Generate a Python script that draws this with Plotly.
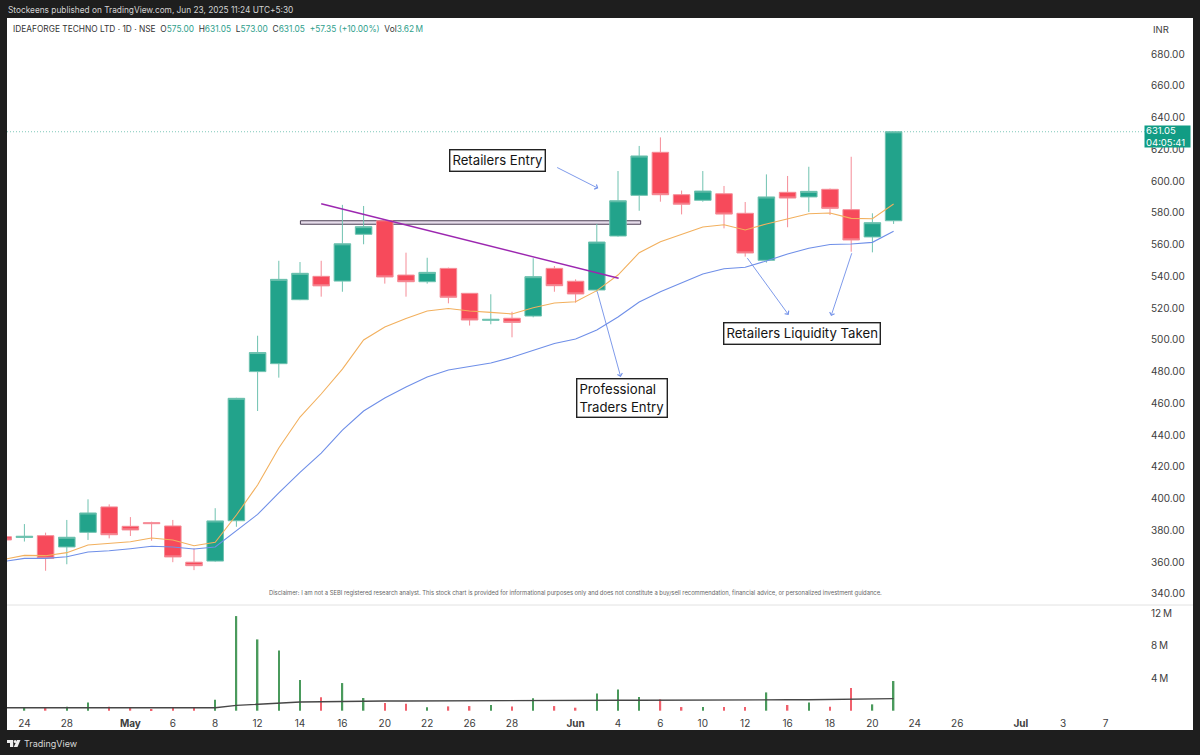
import plotly.graph_objects as go

# ---- data ----
session = list(range(-1, 42))
opens = [376, 375.6, 376.7, 369.6, 378.8, 394.8, 382.6, 384.9, 382.8, 360, 360.7, 386.1, 480, 485, 525.3, 540, 537, 566.5, 575, 540.8,
         536.6, 545, 529.3, 512.3, 513.6, 515, 545, 536.9, 531.4, 565.4, 591, 618.1, 591.4, 587.9, 592, 579.7, 550.1, 592.9, 590, 594.8, 582, 564.8, 575]
highs = [376.5, 384, 378.6, 386.6, 399.6, 396.4, 388.4, 385.5, 386.6, 368.7, 394, 463.5, 502.6, 549.8, 549, 549.8, 585, 584.3, 575.5, 554.9,
         551.7, 545.5, 529.5, 528.7, 517.7, 551.4, 546.5, 538.1, 573, 606.3, 622.1, 627.5, 594, 606.3, 596.9, 586.8, 604.2, 603.2, 609, 595.3, 615.3, 579.7, 631.05]
lows = [373.5, 373, 354.6, 358.7, 374, 375, 376.5, 373.5, 360, 355, 360.3, 382.3, 455.2, 476.2, 525, 527.2, 530.3, 560.2, 535.4, 527.2,
        535.4, 523, 509, 509.8, 501.6, 514.2, 530.3, 523.4, 530.3, 565, 581.3, 587, 579, 587, 570.2, 552.4, 548.6, 570.9, 580.5, 578.6, 555.5, 555.1, 573]
closes = [374, 376.3, 362.4, 375.7, 391, 377.3, 380.3, 384.3, 363.3, 357.8, 386, 463.2, 492, 538.1, 541.9, 534, 560.5, 571.3, 539.6, 536.6,
          542.5, 526.8, 512.5, 512.9, 511, 539.8, 534.1, 528.9, 561.6, 587.6, 615.8, 591.4, 585.4, 593.7, 579.2, 554.7, 590, 589.3, 593.5, 582.8, 562.9, 573.8, 631.05]
ema_fast = [361.7, 364.3, 364.1, 366, 370.8, 371.9, 372.9, 375.2, 374, 370.4, 372.5, 389.7, 408.6, 431.9, 451.4, 465.9, 481.6, 499.9, 508.1, 513.4,
            518.2, 519.7, 518.2, 517.3, 516.3, 520.2, 523.2, 524, 531, 540.8, 554.9, 561.8, 566.5, 571.1, 572.5, 569.2, 573, 576.1, 579.4, 579.9, 576.5, 576.3, 585.5]
ema_slow = [360.4, 362.4, 362.4, 363.4, 366.4, 367.2, 368.5, 370, 369.6, 368.3, 369.6, 379.6, 390.1, 403.6, 416.6, 428.7, 443.2, 455.2, 463.4, 470.3,
            476.6, 481, 483.2, 485.4, 489, 493.6, 497.7, 500.5, 506.2, 514.4, 523.8, 530.3, 535.8, 541.5, 544.8, 545.7, 549.7, 554.1, 557.7, 560, 560.4, 561.4, 568.4]
volume = [0.4, 0.4, 0.4, 0.5, 1.02, 0.5, 0.45, 0.16, 0.33, 0.33, 1.35, 11.64, 8.77, 7.42, 3.77, 1.64, 3.4, 1.56, 0.94, 0.86,
          0.41, 0.53, 0.57, 0.7, 0.53, 1.52, 0.57, 0.37, 2.13, 2.62, 1.68, 1.39, 0.45, 0.45, 0.45, 0.45, 2.25, 0.7, 1.02, 0.5, 2.79, 0.78, 3.65]
volume_ma = [0.37, 0.37, 0.37, 0.37, 0.37, 0.37, 0.37, 0.37, 0.37, 0.37, 0.37, 0.65, 0.82, 0.98, 1.07, 1.1, 1.15, 1.19, 1.19, 1.19,
             1.19, 1.2, 1.2, 1.2, 1.21, 1.23, 1.24, 1.25, 1.27, 1.28, 1.29, 1.31, 1.31, 1.31, 1.31, 1.31, 1.33, 1.34, 1.35, 1.36, 1.39, 1.42, 1.48]

date_positions = [0, 2, 5, 7, 9, 11, 13, 15, 17, 19, 21, 23, 26, 28, 30, 32, 34, 36, 38, 40, 42, 44, 47, 49, 51]
date_labels = ["24", "28", "<b>May</b>", "6", "8", "12", "14", "16", "20", "22", "26", "28", "<b>Jun</b>", "4", "6", "10", "12", "16", "18", "20", "24", "26", "<b>Jul</b>", "3", "7"]
price_ticks = [340, 360, 380, 400, 420, 440, 460, 480, 500, 520, 540, 560, 580, 600, 620, 640, 660, 680]
volume_ticks = [4, 8, 12]
volume_labels = ["4\u2009M", "8\u2009M", "12\u2009M"]

# ---- styles ----
W, H = 1200, 755
DARK = "#1e1e1e"
UP, DOWN = "#22a38b", "#f74a5b"
UPLINE, DOWNLINE = "#6fc2b0", "#f58c97"
FONT = "Inter"
TXT = "#3d3d3d"
CLEAR = "rgba(255,255,255,0)"

def fx(px):
    return px / W

def fy(py):
    return 1 - py / H

vol_colors = ["#4a9a5c" if c >= o else "#f0606c" for o, c in zip(opens, closes)]

fig = go.Figure()
fig.add_trace(go.Scatter(x=session, y=ema_slow, mode="lines", line=dict(color="#6f8fe8", width=1.1), hoverinfo="skip", xaxis="x", yaxis="y"))
fig.add_trace(go.Scatter(x=session, y=ema_fast, mode="lines", line=dict(color="#f2b05e", width=1.1), hoverinfo="skip", xaxis="x", yaxis="y"))
fig.add_trace(go.Candlestick(
    x=session, open=opens, high=highs, low=lows, close=closes, xaxis="x", yaxis="y",
    increasing=dict(fillcolor=UP, line=dict(color=UPLINE, width=1)),
    decreasing=dict(fillcolor=DOWN, line=dict(color=DOWNLINE, width=1)),
    hoverinfo="skip"))
fig.add_trace(go.Bar(x=session, y=volume, width=0.075, marker=dict(color=vol_colors, line=dict(width=0)), xaxis="x2", yaxis="y2", hoverinfo="skip"))
fig.add_trace(go.Scatter(x=session, y=volume_ma, mode="lines", line=dict(color="#474747", width=1.4), hoverinfo="skip", xaxis="x2", yaxis="y2"))

x_range = [(7 - 24.4) / 21.2, (1147 - 24.4) / 21.2]
TICK = 10
fig.update_layout(
    width=W, height=H, margin=dict(l=0, r=0, t=0, b=0), autosize=False,
    paper_bgcolor=DARK, plot_bgcolor=CLEAR, showlegend=False, boxgap=0.22, boxgroupgap=0,
    font=dict(family=FONT, color=TXT, size=TICK),
    xaxis=dict(domain=[fx(7), fx(1147)], range=x_range, showgrid=False, zeroline=False, showticklabels=False,
               ticks="", anchor="y", rangeslider=dict(visible=False)),
    yaxis=dict(domain=[fy(605), fy(18)], range=[333.04, 702.67], side="right", anchor="x", showgrid=False, zeroline=False,
               tickvals=price_ticks, ticktext=[f"{v:.2f}" for v in price_ticks], ticks="outside", ticklen=1, tickcolor=CLEAR,
               tickfont=dict(size=TICK, color=TXT)),
    xaxis2=dict(domain=[fx(7), fx(1147)], range=x_range, showgrid=False, zeroline=False, anchor="y2",
                tickmode="array", tickvals=date_positions, ticktext=date_labels, ticks="outside", ticklen=2, tickcolor=CLEAR,
                tickfont=dict(size=TICK, color=TXT)),
    yaxis2=dict(domain=[fy(712), fy(606)], range=[-0.16, 12.88], side="right", anchor="x2", showgrid=False, zeroline=False,
                tickvals=volume_ticks, ticktext=volume_labels, ticks="outside", ticklen=1, tickcolor=CLEAR,
                tickfont=dict(size=TICK, color=TXT)),
)

shapes = [
    dict(type="rect", xref="paper", yref="paper", x0=fx(7), x1=fx(1193), y0=fy(730), y1=fy(18), fillcolor="white", line=dict(width=0), layer="below"),
    dict(type="line", xref="paper", yref="paper", x0=fx(7), x1=fx(1193), y0=fy(605), y1=fy(605), line=dict(color="#e2e2e2", width=1), layer="below"),
    dict(type="rect", xref="x", yref="y", x0=13.02, x1=29.07, y0=572.8, y1=575, fillcolor="#e6dcea", line=dict(color="#4b3f55", width=1), layer="below"),
    dict(type="line", xref="x", yref="y", x0=14, x1=28.03, y0=585.7, y1=538.8, line=dict(color="#9c27b0", width=1.4), layer="above"),
    dict(type="line", xref="x", yref="y", x0=x_range[0], x1=x_range[1], y0=631.05, y1=631.05, line=dict(color="#7fc9ba", width=1, dash="1px,2px"), layer="below"),
    dict(type="path", xref="paper", yref="paper", fillcolor="#eeeeee", line=dict(width=0),
         path=" ".join(f"{c}{fx(a):.5f},{fy(b):.5f}" for c, a, b in [("M", 7, 740), ("L", 13.2, 740), ("L", 13.2, 747), ("L", 10, 747), ("L", 10, 743), ("L", 7, 743)]) + " Z"),
    dict(type="path", xref="paper", yref="paper", fillcolor="#eeeeee", line=dict(width=0),
         path=" ".join(f"{c}{fx(a):.5f},{fy(b):.5f}" for c, a, b in [("M", 17, 740), ("L", 20.5, 740), ("L", 17.5, 747), ("L", 13.8, 747)]) + " Z"),
    dict(type="circle", xref="paper", yref="paper", x0=fx(13.8), x1=fx(16.6), y0=fy(743), y1=fy(740), fillcolor="#eeeeee", line=dict(width=0)),
]
fig.update_layout(shapes=shapes)

G = "#2fa08c"
legend = (f'IDEAFORGE TECHNO LTD · 1D · NSE  O<span style="color:{G}">575.00</span>  H<span style="color:{G}">631.05</span>  '
          f'L<span style="color:{G}">573.00</span>  C<span style="color:{G}">631.05</span>  <span style="color:{G}">+57.35 (+10.00%)</span>  '
          f'Vol<span style="color:{G}">3.62\u2009M</span>')
disclaimer = ("Disclaimer: I am not a SEBI registered research analyst. This stock chart is provided for informational purposes only "
              "and does not constitute a buy/sell recommendation, financial advice, or personalized investment guidance.")

def paper_text(text, px, py, size, color, xanchor="left", **kw):
    return dict(text=text, xref="paper", yref="paper", x=fx(px), y=fy(py), xanchor=xanchor, yanchor="middle",
                showarrow=False, font=dict(size=size, color=color, family=FONT), **kw)

def box_text(text, x, y, align="center"):
    return dict(text=text, xref="x", yref="y", x=x, y=y, showarrow=False, align=align, bgcolor="white", bordercolor="#222222",
                borderwidth=1.4, borderpad=2, font=dict(size=13.2, color="#141414", family=FONT))

def arrow(x0, y0, x1, y1):
    return dict(xref="x", yref="y", axref="x", ayref="y", ax=x0, ay=y0, x=x1, y=y1, text="", showarrow=True,
                arrowhead=4, arrowsize=1.1, arrowwidth=0.9, arrowcolor="#6f8fe8", standoff=0, startstandoff=0)

annotations = [
    paper_text("Stockeens published on TradingView.com, Jun 23, 2025 11:24 UTC+5:30", 6, 10.5, 8.3, "#d4d4d4"),
    paper_text(legend, 11, 29.5, 8.35, "#333333"),
    paper_text("INR", 1151, 30, 9.5, TXT),
    paper_text("TradingView", 22, 743.5, 9, "#d8d8d8"),
    paper_text(disclaimer, 575, 593, 5.84, "#666666", xanchor="center"),
    dict(text="631.05<br>04:05:41", xref="paper", yref="paper", x=fx(1144), y=fy(136.5), xanchor="left", yanchor="middle", align="left",
         showarrow=False, bgcolor="#119c84", width=43, height=19, borderpad=1, font=dict(size=9.5, color="white", family=FONT)),
    box_text("Retailers Entry", 22.3, 613),
    box_text("Professional<br>Traders Entry", 28.17, 463.4, align="left"),
    box_text("Retailers Liquidity Taken", 36.7, 504),
    arrow(25.06, 609, 27.07, 595.4),
    arrow(27, 531.4, 28.13, 476.6),
    arrow(34.05, 552.4, 36.05, 515.7),
    arrow(39.05, 555.5, 38.05, 515),
]
fig.update_layout(annotations=annotations)

fig.write_html("out.html", config={"displayModeBar": False},
               post_script="document.body.style.margin='0';document.body.style.background='#1e1e1e';")
